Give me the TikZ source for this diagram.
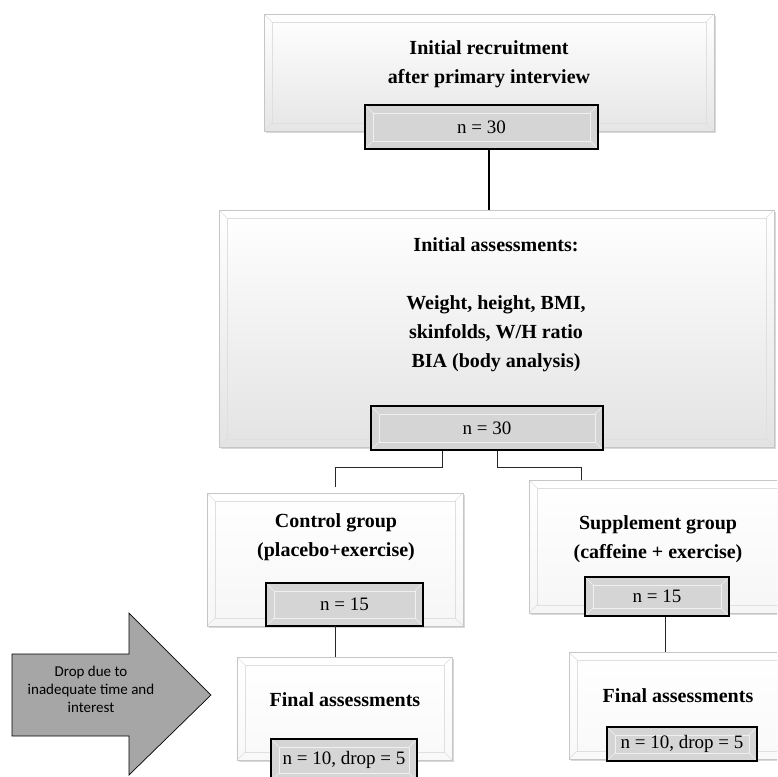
\documentclass[tikz,border=0pt]{standalone}
\usepackage{fontspec}
\setmainfont{Liberation Serif}
\newfontfamily\calib{Carlito}
\usetikzlibrary{positioning,shadows}
\tikzset{
  bevel/.style={path picture={
    \draw[#1] ([shift={(8pt,-8pt)}]path picture bounding box.north west) rectangle ([shift={(-8pt,8pt)}]path picture bounding box.south east);
    \draw[#1] (path picture bounding box.north west) -- ++(8pt,-8pt);
    \draw[#1] (path picture bounding box.north east) -- ++(-8pt,-8pt);
    \draw[#1] (path picture bounding box.south west) -- ++(8pt,8pt);
    \draw[#1] (path picture bounding box.south east) -- ++(-8pt,8pt);}},
  bigbox/.style={draw=gray!45, top color=white, bottom color=gray!#1, inner sep=0pt,
    drop shadow={shadow xshift=1.5pt, shadow yshift=-1.5pt, opacity=0.3}, bevel=gray!25},
  nbox/.style={draw=black, line width=1.3pt, fill=gray!33, inner sep=0pt,
    font=\fontsize{19}{22}\selectfont, bevel={gray!12, line width=0.6pt}},
  lbl/.style={font=\bfseries\fontsize{20}{29}\selectfont, align=center},
  conn/.style={draw=black!85, line width=0.9pt}
}
\begin{document}
\begin{tikzpicture}[x=1pt,y=-1pt]
\useasboundingbox (0,0) rectangle (777,777);
\clip (0,0) rectangle (777,777);
\node [bigbox=20, minimum width=450pt, minimum height=117pt] (top) at (489,72.5) {};
\node [lbl] (toptxt) at (489,64) {Initial recruitment\\after primary interview};
\node [nbox, minimum width=233pt, minimum height=44pt] (topn) at (481.5,127) {n = 30};
\node [bigbox=22, minimum width=555pt, minimum height=237pt] (mid) at (496.5,328.5) {};
\node [lbl] (midtxt) at (496,304.5) {Initial assessments:\\[29pt]Weight, height, BMI,\\skinfolds, W/H ratio\\BIA (body analysis)};
\node [nbox, minimum width=232pt, minimum height=44pt] (midn) at (487,428) {n = 30};
\draw [line width=2.6pt] (top.center |- topn.south) -- (top.center |- mid.north);
\node [bigbox=7, minimum width=256pt, minimum height=133pt] (ctrl) at (335,559.5) {};
\node [lbl] (ctrltxt) at (336,537.5) {Control group\\(placebo+exercise)};
\node [nbox, minimum width=157pt, minimum height=43pt] (ctrln) at (344.5,604.5) {n = 15};
\node [bigbox=7, minimum width=258pt, minimum height=133pt] (supp) at (658,546.5) {};
\node [lbl] (supptxt) at (658,539) {Supplement group\\(caffeine + exercise)};
\node [nbox, minimum width=144pt, minimum height=39pt] (suppn) at (657,596.5) {n = 15};
\draw [conn] ([xshift=-45pt]midn.south) -- ++(0,17) -| ([yshift=6pt]ctrl.north);
\draw [conn] ([xshift=10pt]midn.south) -- ++(0,17) -| ([xshift=-77pt]supp.north);
\node [bigbox=5, minimum width=215pt, minimum height=103pt] (finl) at (344.5,708.5) {};
\node [lbl] (finltxt) at (345,700) {Final assessments};
\node [nbox, minimum width=146pt, minimum height=42pt] (finln) at (344,760) {n = 10, drop = 5};
\node [bigbox=5, minimum width=218pt, minimum height=107pt] (finr) at (678,705.5) {};
\node [lbl] (finrtxt) at (678,696) {Final assessments};
\node [nbox, minimum width=150pt, minimum height=34pt] (finrn) at (682,744) {n = 10, drop = 5};
\draw [conn] (ctrl.south) -- (ctrl.south |- finl.north);
\draw [conn] ([xshift=8pt]suppn.south) -- ([xshift=8pt]suppn.south |- finr.north);
\draw [fill=gray!70, draw=black, line width=0.7pt] (12,654) -- (129,654) -- (129,613) -- (211,695) -- (129,775) -- (129,736) -- (12,736) -- cycle;
\node [font=\calib\fontsize{15}{18}\selectfont, align=center] (drop) at (91,689) {Drop due to\\inadequate time and\\interest};
\end{tikzpicture}
\end{document}
